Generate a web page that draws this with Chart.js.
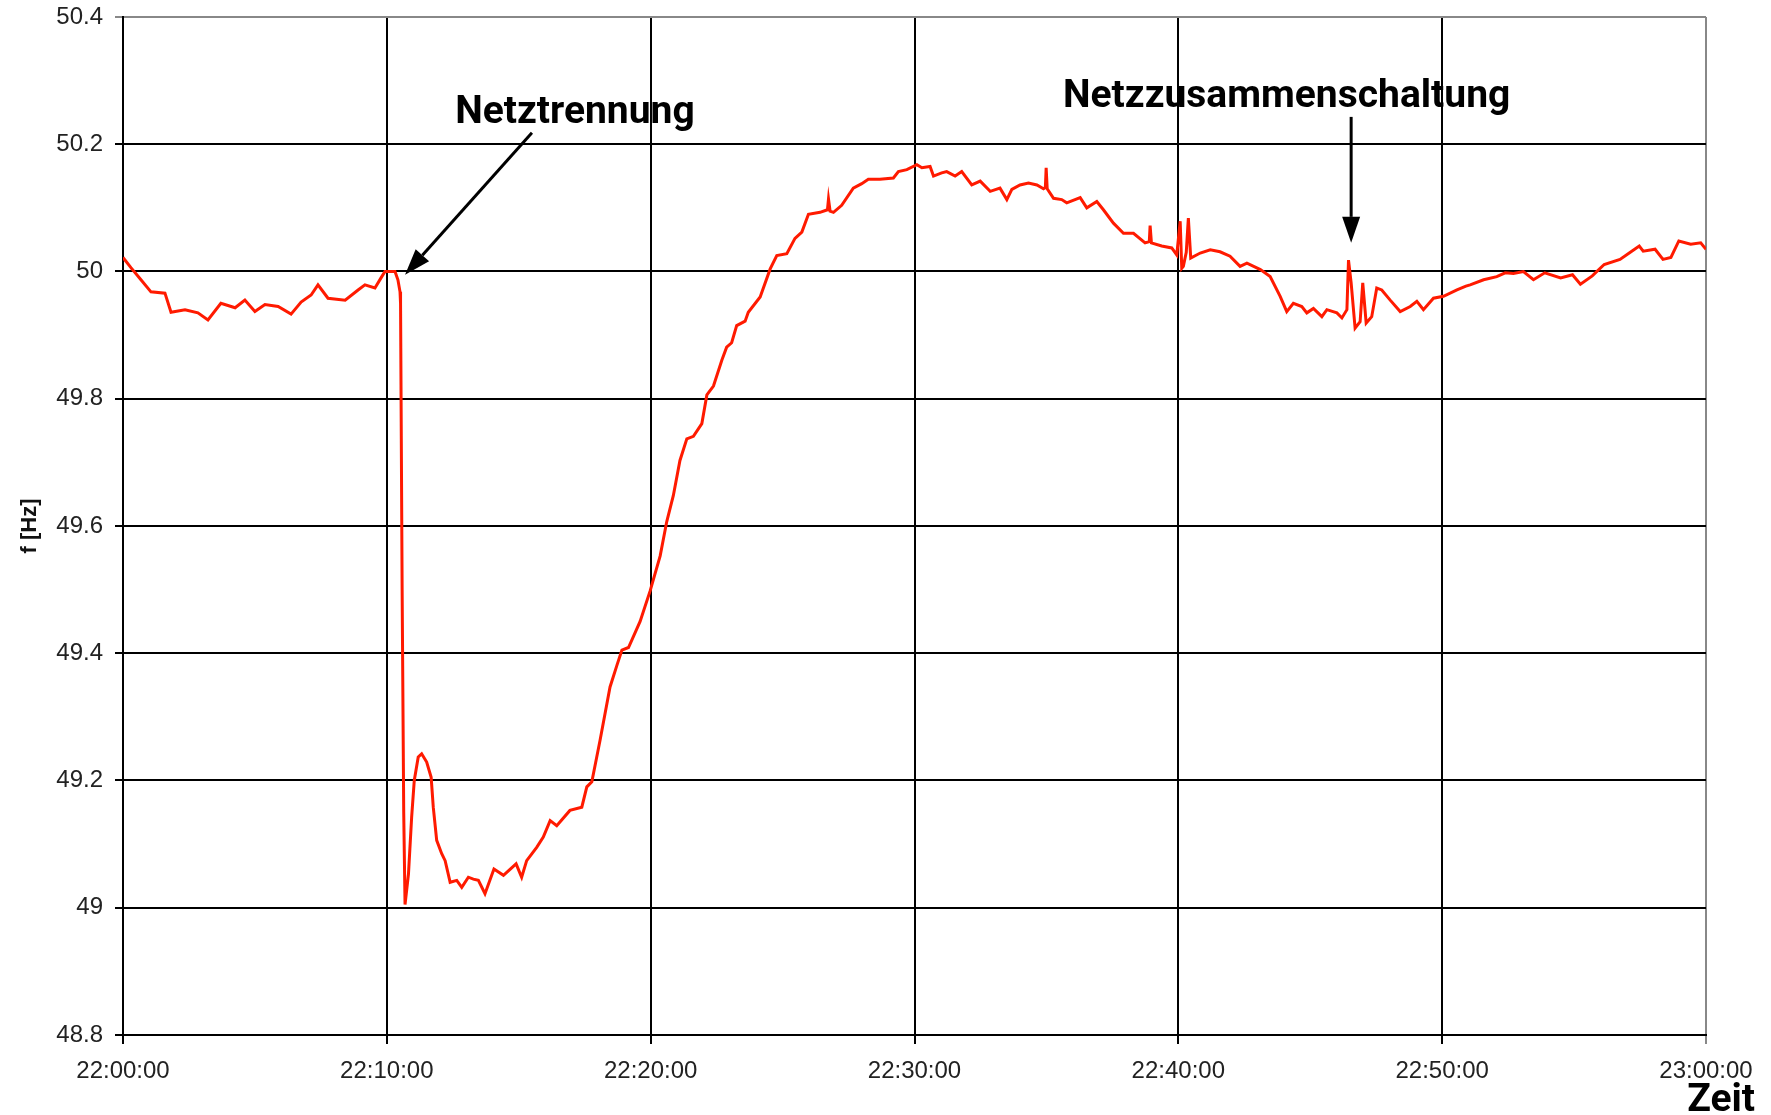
<!DOCTYPE html>
<html>
<head>
<meta charset="utf-8">
<script src="https://cdn.jsdelivr.net/npm/chart.js@4.4.0/dist/chart.umd.min.js"></script>
<style>
  html, body { margin: 0; padding: 0; background: #fff; }
  #wrap { width: 1771px; height: 1115px; }
</style>
</head>
<body>
<div id="wrap"><canvas id="freqChart"></canvas></div>
<script>
// minutes after 22:00:00
const minutes = [
  0, 0.30, 0.68, 1.06, 1.59, 1.82, 2.35, 2.84, 3.22, 3.71, 4.25, 4.62, 5.0, 5.38, 5.88, 6.37, 6.75, 7.13, 7.39, 7.77,
  8.42, 8.91, 9.17, 9.55, 9.78, 9.93, 10.31, 10.42, 10.50, 10.52, 10.58, 10.64, 10.69, 10.72, 10.82, 10.94,
  11.04, 11.19, 11.32, 11.51, 11.68, 11.76, 11.89, 12.08, 12.21, 12.40, 12.65, 12.84, 13.09, 13.28, 13.47, 13.72,
  14.06, 14.42, 14.90, 15.11, 15.30, 15.68, 15.93, 16.19, 16.44, 16.94, 17.39, 17.58, 17.77, 18.08, 18.46, 18.72,
  18.91, 19.16, 19.60, 19.98, 20.36, 20.61, 20.86, 21.11, 21.37, 21.62, 21.94, 22.13, 22.38, 22.70, 22.88, 23.07,
  23.26, 23.58, 23.70, 24.15, 24.53, 24.78, 25.16, 25.47, 25.73, 25.98, 26.42, 26.70, 26.74, 26.80, 26.93, 27.24,
  27.68, 28.0, 28.25, 28.69, 29.20, 29.39, 29.71, 30.09, 30.28, 30.59, 30.72, 31.03, 31.22, 31.54, 31.79, 32.17,
  32.49, 32.87, 33.24, 33.50, 33.69, 34.0, 34.32, 34.64, 34.89, 34.96, 34.99, 35.03, 35.27, 35.58, 35.77, 36.28,
  36.53, 36.91, 37.16, 37.54, 37.92, 38.30, 38.74, 38.90, 38.93, 38.98, 39.37, 39.75, 39.94, 40.07, 40.13, 40.19,
  40.30, 40.38, 40.47, 40.83, 41.21, 41.58, 41.96, 42.34, 42.6, 43.11, 43.48, 43.86, 44.11, 44.36, 44.68, 44.87,
  45.12, 45.44, 45.63, 46.01, 46.20, 46.39, 46.45, 46.55, 46.70, 46.89, 46.99, 47.12, 47.33, 47.52, 47.71, 48.03,
  48.41, 48.79, 49.04, 49.29, 49.67, 50.05, 50.56, 50.9, 51.06, 51.57, 52.07, 52.39, 52.70, 53.08, 53.46, 53.89,
  54.49, 54.94, 55.24, 55.69, 56.14, 56.74, 57.09, 57.47, 57.62, 58.07, 58.37, 58.67, 58.97, 59.42, 59.80, 60.0
];

// frequency in Hz
const freqHz = [
  50.022, 50.006, 49.987, 49.968, 49.966, 49.936, 49.940, 49.935, 49.924, 49.950, 49.943, 49.955, 49.937, 49.948, 49.945, 49.933, 49.952, 49.963, 49.979, 49.958,
  49.955, 49.971, 49.979, 49.974, 49.990, 50.000, 50.000, 49.987, 49.968, 49.950, 49.500, 49.150, 49.005, 49.005, 49.053, 49.142,
  49.200, 49.237, 49.242, 49.229, 49.205, 49.158, 49.106, 49.085, 49.074, 49.040, 49.043, 49.032, 49.048, 49.045, 49.043, 49.022,
  49.061, 49.051, 49.069, 49.048, 49.074, 49.095, 49.111, 49.137, 49.129, 49.153, 49.158, 49.190, 49.198, 49.263, 49.347, 49.381,
  49.405, 49.409, 49.450, 49.498, 49.553, 49.607, 49.648, 49.703, 49.737, 49.741, 49.761, 49.806, 49.820, 49.861, 49.881, 49.888,
  49.915, 49.922, 49.936, 49.960, 50.004, 50.025, 50.028, 50.052, 50.062, 50.090, 50.093, 50.097, 50.114, 50.095, 50.093, 50.104,
  50.131, 50.138, 50.145, 50.145, 50.147, 50.157, 50.160, 50.168, 50.163, 50.165, 50.150, 50.155, 50.157, 50.150, 50.157, 50.136,
  50.142, 50.126, 50.131, 50.113, 50.129, 50.136, 50.139, 50.136, 50.130, 50.132, 50.163, 50.130, 50.115, 50.113, 50.108, 50.116,
  50.100, 50.110, 50.097, 50.076, 50.060, 50.060, 50.045, 50.047, 50.072, 50.045, 50.040, 50.037, 50.026, 50.079, 50.005, 50.008,
  50.030, 50.084, 50.021, 50.029, 50.034, 50.031, 50.024, 50.008, 50.013, 50.003, 49.992, 49.961, 49.937, 49.950, 49.945, 49.935,
  49.942, 49.929, 49.940, 49.935, 49.927, 49.940, 50.018, 49.982, 49.911, 49.921, 49.982, 49.919, 49.929, 49.974, 49.971, 49.955,
  49.937, 49.945, 49.953, 49.940, 49.958, 49.961, 49.971, 49.977, 49.979, 49.987, 49.992, 49.998, 49.997, 50.000, 49.987, 49.998,
  49.990, 49.995, 49.980, 49.993, 50.011, 50.019, 50.029, 50.040, 50.032, 50.035, 50.019, 50.022, 50.048, 50.043, 50.045, 50.035
];

const xTickValues = [0, 10, 20, 30, 40, 50, 60];
const xTickLabels = ['22:00:00', '22:10:00', '22:20:00', '22:30:00', '22:40:00', '22:50:00', '23:00:00'];
const yTickValues = [48.8, 49, 49.2, 49.4, 49.6, 49.8, 50, 50.2, 50.4];
const yTickLabels = ['48.8', '49', '49.2', '49.4', '49.6', '49.8', '50', '50.2', '50.4'];

const tickFont = { family: '"Liberation Sans", Arial, sans-serif', size: 24 };
const noteFont = 'bold 39px Roboto, "Open Sans", sans-serif';

// arrow with filled head, from (x1,y1) to tip (x2,y2)
function drawArrow(ctx, x1, y1, x2, y2) {
    const ang = Math.atan2(y2 - y1, x2 - x1);
    const headLen = 26, headW = 9;
    const bx = x2 - headLen * Math.cos(ang);
    const by = y2 - headLen * Math.sin(ang);
    ctx.lineWidth = 3;
    ctx.beginPath();
    ctx.moveTo(x1, y1);
    ctx.lineTo(bx, by);
    ctx.stroke();
    ctx.beginPath();
    ctx.moveTo(x2, y2);
    ctx.lineTo(bx + headW * Math.sin(ang), by - headW * Math.cos(ang));
    ctx.lineTo(bx - headW * Math.sin(ang), by + headW * Math.cos(ang));
    ctx.closePath();
    ctx.fill();
}

// annotations and the "Zeit" label
const notesPlugin = {
    id: 'notes',
    afterDraw(chart) {
        const { ctx, scales: { x, y } } = chart;
        ctx.save();
        ctx.fillStyle = '#000';
        ctx.strokeStyle = '#000';
        ctx.font = noteFont;
        ctx.textBaseline = 'alphabetic';
        ctx.textAlign = 'left';
        ctx.fillText('Netztrennung', x.getPixelForValue(12.59), y.getPixelForValue(50.234));
        ctx.fillText('Netzzusammenschaltung', x.getPixelForValue(35.63), y.getPixelForValue(50.258));
        drawArrow(ctx, x.getPixelForValue(15.5), y.getPixelForValue(50.218),
                  x.getPixelForValue(10.69), y.getPixelForValue(49.995));
        drawArrow(ctx, x.getPixelForValue(46.55), y.getPixelForValue(50.243),
                  x.getPixelForValue(46.55), y.getPixelForValue(50.045));
        ctx.textAlign = 'right';
        ctx.fillText('Zeit', chart.width - 16, chart.height - 4);
        ctx.restore();
    }
};

const freqChart = new Chart(document.getElementById('freqChart').getContext('2d'), {
    type: 'line',
    data: {
        datasets: [{
            label: 'f',
            data: minutes.map((m, i) => ({ x: m, y: freqHz[i] })),
            borderColor: '#ff1a00',
            borderWidth: 3,
            pointRadius: 0,
            tension: 0,
            fill: false
        }]
    },
    options: {
        responsive: true,
        maintainAspectRatio: false,
        animation: false,
        layout: { padding: { top: 17, right: 65, bottom: 0, left: 0 } },
        plugins: {
            legend: { display: false },
            tooltip: { enabled: false }
        },
        scales: {
            x: {
                type: 'linear',
                min: 0,
                max: 60,
                afterBuildTicks: scale => { scale.ticks = xTickValues.map(v => ({ value: v })); },
                afterFit: scale => { scale.height = 80; },
                ticks: {
                    autoSkip: false,
                    maxRotation: 0,
                    padding: 13,
                    color: '#222',
                    font: tickFont,
                    callback: (value, index) => xTickLabels[index]
                },
                grid: {
                    color: ctx => (ctx.tick && ctx.tick.value === 60 ? '#888' : '#000'),
                    lineWidth: 2,
                    tickLength: 9
                },
                border: { color: '#000', width: 2 }
            },
            y: {
                min: 48.8,
                max: 50.4,
                afterBuildTicks: scale => { scale.ticks = yTickValues.map(v => ({ value: v })); },
                afterFit: scale => {
                    scale.width = 123;
                    scale.paddingTop = 0;
                    scale.paddingBottom = 0;
                },
                ticks: {
                    autoSkip: false,
                    padding: 12,
                    color: '#222',
                    font: tickFont,
                    callback: (value, index) => yTickLabels[index]
                },
                grid: {
                    color: ctx => (ctx.tick && ctx.tick.value === 50.4 ? '#888' : '#000'),
                    lineWidth: 2,
                    tickLength: 8
                },
                border: { color: '#000', width: 2 },
                title: {
                    display: true,
                    text: 'f [Hz]',
                    color: '#111',
                    font: { family: '"Liberation Sans", Arial, sans-serif', size: 22, weight: 'bold' },
                    padding: { top: 17, bottom: 0 }
                }
            }
        }
    },
    plugins: [notesPlugin]
});
</script>
</body>
</html>
